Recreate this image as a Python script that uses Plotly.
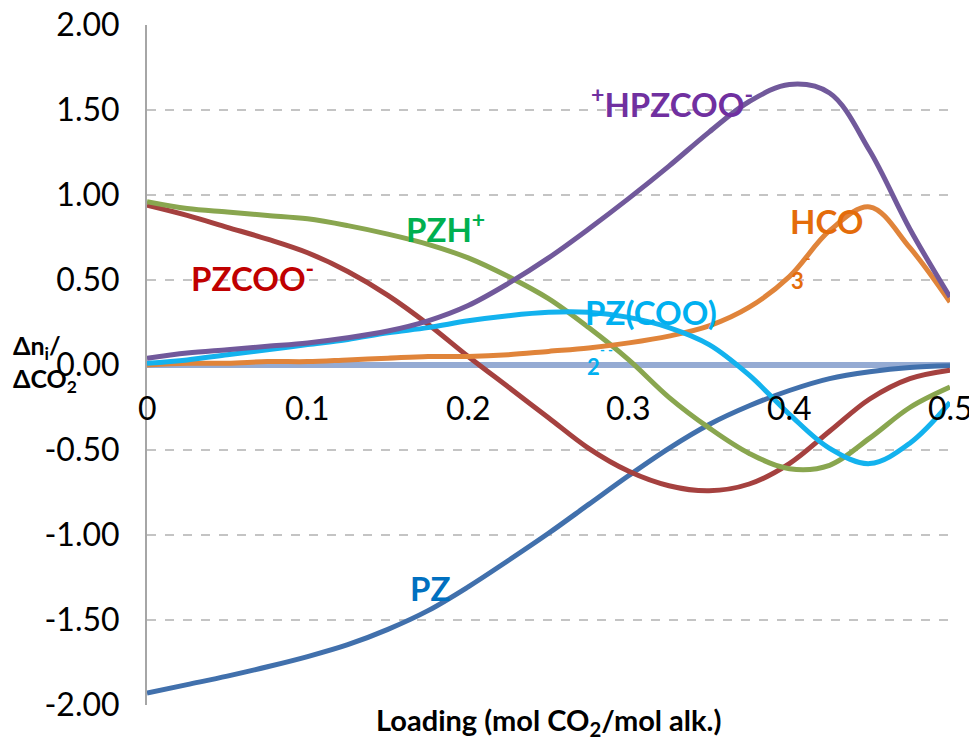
import plotly.graph_objects as go

# ---------------- data ----------------
loading = [0, 0.025, 0.05, 0.075, 0.1, 0.125, 0.15, 0.175, 0.2, 0.225, 0.25,
           0.275, 0.3, 0.325, 0.35, 0.375, 0.4, 0.425, 0.45, 0.475, 0.5]

pz = [-1.93, -1.88, -1.83, -1.775, -1.715, -1.645, -1.555, -1.445, -1.305, -1.15, -0.99,
      -0.82, -0.65, -0.49, -0.35, -0.24, -0.15, -0.08, -0.04, -0.015, -0.005]
pzcoo = [0.94, 0.88, 0.81, 0.74, 0.66, 0.55, 0.41, 0.24, 0.05, -0.13, -0.31,
         -0.49, -0.625, -0.71, -0.74, -0.70, -0.58, -0.39, -0.20, -0.08, -0.03]
pzh = [0.96, 0.92, 0.90, 0.88, 0.86, 0.82, 0.77, 0.71, 0.63, 0.52, 0.39,
       0.22, 0.03, -0.19, -0.37, -0.52, -0.61, -0.59, -0.43, -0.25, -0.13]
hpzcoo = [0.04, 0.07, 0.09, 0.11, 0.13, 0.16, 0.20, 0.26, 0.35, 0.48, 0.63,
          0.80, 0.98, 1.17, 1.37, 1.55, 1.65, 1.60, 1.26, 0.80, 0.40]
hco3 = [0.00, 0.01, 0.01, 0.02, 0.02, 0.03, 0.04, 0.05, 0.05, 0.06, 0.08,
        0.10, 0.13, 0.17, 0.23, 0.34, 0.52, 0.79, 0.93, 0.69, 0.37]
pzcoo2 = [0.01, 0.03, 0.06, 0.09, 0.12, 0.15, 0.19, 0.22, 0.26, 0.29, 0.31,
          0.31, 0.28, 0.22, 0.12, -0.06, -0.29, -0.49, -0.58, -0.46, -0.22]
zero_series = [0] * len(loading)

y_ticks = [2.0, 1.5, 1.0, 0.5, 0.0, -0.5, -1.0, -1.5, -2.0]
y_tick_text = ["2.00", "1.50", "1.00", "0.50", "0.00", "-0.50", "-1.00", "-1.50", "-2.00"]
x_ticks = [0, 0.1, 0.2, 0.3, 0.4, 0.5]
x_tick_text = ["0", "0.1", "0.2", "0.3", "0.4", "0.5"]

series = [
    ("PZ", pz, "#4170AC"),
    ("PZCOO-", pzcoo, "#A5413F"),
    ("PZH+", pzh, "#89A64F"),
    ("HCO3-", hco3, "#E0843A"),
    ("PZ(COO)2", pzcoo2, "#13B2EE"),
    ("+HPZCOO-", hpzcoo, "#71599B"),
]

# labels: text, x, y, color, size
labels = [
    ("<b><sup>+</sup>HPZCOO<sup>-</sup></b>", 0.327, 1.55, "#7030A0", 33),
    ("<b>PZH<sup>+</sup></b>", 0.1856, 0.81, "#00B050", 33),
    ("<b>PZCOO<sup>-</sup></b>", 0.0654, 0.525, "#C00000", 33),
    ("<b>PZ(COO)</b>", 0.314, 0.31, "#00B0F0", 33),
    ("<b>2</b>", 0.278, -0.01, "#00B0F0", 22),
    ("<b>- -</b>", 0.286, 0.09, "#00B0F0", 13),
    ("<b>HCO</b>", 0.423, 0.85, "#E46C0A", 33),
    ("<b>3</b>", 0.405, 0.50, "#E46C0A", 22),
    ("<b>-</b>", 0.4116, 0.63, "#E46C0A", 15),
    ("<b>PZ</b>", 0.176, -1.31, "#0070C0", 33),
]

FONT = "Lato, Carlito, 'Open Sans', sans-serif"

fig = go.Figure()

fig.add_trace(go.Scatter(x=loading, y=zero_series, mode="lines",
                         line=dict(color="#95ABD3", width=6), showlegend=False,
                         hoverinfo="skip"))
for name, vals, col in series:
    fig.add_trace(go.Scatter(x=loading, y=vals, mode="lines", name=name,
                             line=dict(color=col, width=5, shape="spline", smoothing=1.0),
                             showlegend=False))

annotations = []
for txt, x, y, col, sz in labels:
    annotations.append(dict(text=txt, x=x, y=y, xref="x", yref="y", showarrow=False,
                            font=dict(family=FONT, size=sz, color=col)))

for tv, tt in zip(x_ticks, x_tick_text):
    annotations.append(dict(text=tt, x=tv, y=0, xref="x", yref="y", showarrow=False,
                            yanchor="middle", yshift=-42,
                            font=dict(family=FONT, size=32, color="#000000")))

annotations.append(dict(text="<b>Loading (mol CO<sub>2</sub>/mol alk.)</b>",
                        x=0.5, y=0, xref="paper", yref="paper", showarrow=False,
                        yanchor="middle", yshift=-16,
                        font=dict(family=FONT, size=29, color="#000000")))
annotations.append(dict(text="<b>Δn<sub>i</sub>/<br>ΔCO<sub>2</sub></b>",
                        x=0, y=0, xref="paper", yref="y", showarrow=False,
                        xanchor="center", yanchor="middle", xshift=-102, yshift=2,
                        align="left",
                        font=dict(family=FONT, size=25, color="#000000")))

fig.update_layout(
    width=969, height=738,
    margin=dict(l=147, r=19, t=25, b=33, autoexpand=False),
    plot_bgcolor="white", paper_bgcolor="white",
    font=dict(family=FONT, size=32, color="#000000"),
    annotations=annotations,
    xaxis=dict(range=[0, 0.5], showgrid=False, zeroline=False, showticklabels=False,
               showline=False, ticks="", automargin=False),
    yaxis=dict(range=[-2.0, 2.0], tickvals=y_ticks, ticktext=y_tick_text,
               showgrid=True, gridcolor="#C4C4C4", gridwidth=2, griddash="dash",
               zeroline=False, showline=True, linecolor="#A6A6A6", linewidth=2,
               ticks="", ticklabelstandoff=19, automargin=False,
               tickfont=dict(family=FONT, size=32, color="#000000")),
)

fig.write_html("out.html", config={"displayModeBar": False},
               post_script="document.body.style.margin='0';document.body.style.overflow='hidden';")
